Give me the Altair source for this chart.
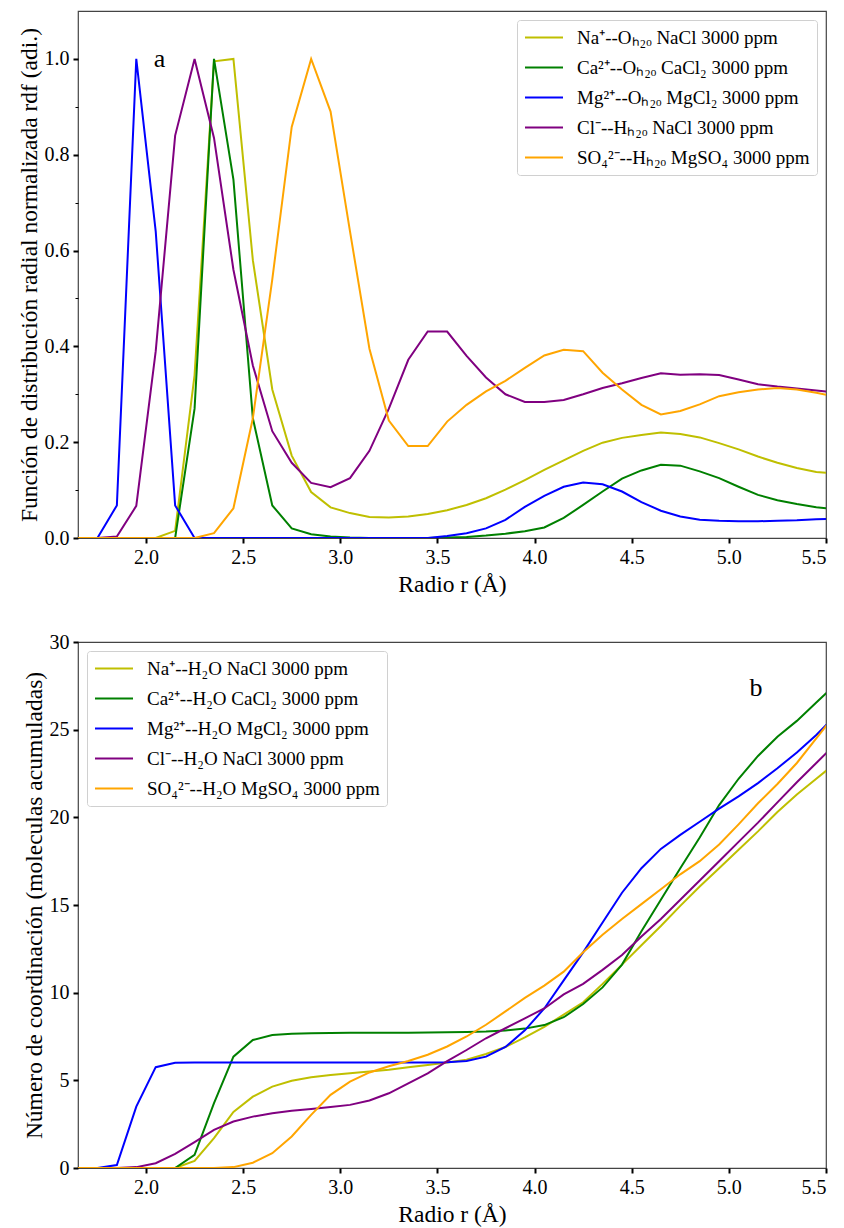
import altair as alt
import pandas as pd

FONT = "Liberation Serif"

# radius grid (Å)
R = [1.65, 1.75, 1.85, 1.95, 2.05, 2.15, 2.25, 2.35, 2.45, 2.55,
     2.65, 2.75, 2.85, 2.95, 3.05, 3.15, 3.25, 3.35, 3.45, 3.55,
     3.65, 3.75, 3.85, 3.95, 4.05, 4.15, 4.25, 4.35, 4.45, 4.55,
     4.65, 4.75, 4.85, 4.95, 5.05, 5.15, 5.25, 5.35, 5.45, 5.55]

# ---- panel a: normalised rdf ----
RDF_NA = [0, 0, 0, 0, 0, 0.015, 0.34, 0.995, 1.0, 0.58,
          0.31, 0.172, 0.096, 0.064, 0.052, 0.044, 0.043, 0.045, 0.05, 0.058,
          0.069, 0.083, 0.101, 0.121, 0.142, 0.162, 0.182, 0.199, 0.209, 0.215,
          0.22, 0.217, 0.21, 0.198, 0.185, 0.17, 0.157, 0.146, 0.138, 0.134]
RDF_CA = [0, 0, 0, 0, 0, 0, 0.27, 1.0, 0.748, 0.25,
          0.068, 0.02, 0.008, 0.003, 0.001, 0, 0, 0, 0, 0.001,
          0.002, 0.005, 0.009, 0.014, 0.022, 0.042, 0.069, 0.097, 0.124, 0.141,
          0.153, 0.151, 0.139, 0.125, 0.107, 0.09, 0.079, 0.071, 0.064, 0.06]
RDF_MG = [0, 0, 0.068, 1.0, 0.64, 0.068, 0, 0, 0, 0,
          0, 0, 0, 0, 0, 0, 0, 0, 0, 0.004,
          0.01, 0.02, 0.038, 0.065, 0.088, 0.107, 0.116, 0.112, 0.097, 0.075,
          0.057, 0.045, 0.038, 0.036, 0.035, 0.035, 0.036, 0.037, 0.039, 0.04]
RDF_CL = [0, 0, 0.003, 0.067, 0.39, 0.84, 1.0, 0.835, 0.56, 0.36,
          0.223, 0.157, 0.115, 0.106, 0.125, 0.182, 0.27, 0.372, 0.431, 0.431,
          0.38, 0.335, 0.30, 0.284, 0.284, 0.288, 0.30, 0.313, 0.323, 0.334,
          0.344, 0.341, 0.342, 0.34, 0.331, 0.321, 0.316, 0.312, 0.308, 0.304]
RDF_SO4 = [0, 0, 0, 0, 0, 0, 0, 0.01, 0.062, 0.25,
           0.54, 0.858, 1.0, 0.89, 0.64, 0.395, 0.245, 0.192, 0.192, 0.243,
           0.278, 0.306, 0.328, 0.355, 0.381, 0.393, 0.39, 0.345, 0.31, 0.278,
           0.258, 0.265, 0.279, 0.296, 0.304, 0.31, 0.313, 0.31, 0.303, 0.295]

# ---- panel b: cumulative coordination number ----
CN_NA = [0, 0, 0, 0, 0, 0, 0.4, 1.7, 3.2, 4.07,
         4.64, 4.98, 5.17, 5.3, 5.4, 5.5, 5.6, 5.75, 5.88, 6.02,
         6.17, 6.5, 6.9, 7.45, 8.05, 8.75, 9.45, 10.5, 11.6, 12.7,
         13.8, 14.95, 16.05, 17.1, 18.15, 19.2, 20.3, 21.3, 22.2, 23.1]
CN_CA = [0, 0, 0, 0, 0, 0, 0.75, 3.7, 6.35, 7.3,
         7.58, 7.66, 7.69, 7.7, 7.71, 7.71, 7.72, 7.72, 7.73, 7.74,
         7.75, 7.78, 7.84, 7.95, 8.15, 8.6, 9.35, 10.3, 11.6, 13.5,
         15.3, 17.1, 18.85, 20.7, 22.2, 23.5, 24.6, 25.5, 26.55, 27.6]
CN_MG = [0, 0, 0.17, 3.5, 5.75, 6.0, 6.02, 6.02, 6.02, 6.02,
         6.02, 6.02, 6.02, 6.02, 6.02, 6.02, 6.02, 6.02, 6.02, 6.03,
         6.1, 6.35, 6.9, 7.85, 9.1, 10.7, 12.3, 14.0, 15.7, 17.1,
         18.2, 19.0, 19.75, 20.5, 21.2, 21.95, 22.8, 23.7, 24.7, 25.8]
CN_CL = [0, 0, 0, 0.05, 0.27, 0.8, 1.47, 2.17, 2.65, 2.93,
         3.12, 3.27, 3.37, 3.48, 3.6, 3.85, 4.26, 4.83, 5.4, 6.1,
         6.73, 7.4, 7.97, 8.54, 9.1, 9.9, 10.5, 11.3, 12.15, 13.2,
         14.2, 15.3, 16.4, 17.5, 18.6, 19.7, 20.85, 22.0, 23.1, 24.2]
CN_SO4 = [0, 0, 0, 0, 0, 0, 0, 0, 0.05, 0.3,
          0.84, 1.8, 3.03, 4.17, 4.93, 5.45, 5.8, 6.1, 6.46, 6.93,
          7.5, 8.17, 8.93, 9.7, 10.4, 11.2, 12.3, 13.3, 14.2, 15.05,
          15.9, 16.75, 17.5, 18.45, 19.6, 20.8, 21.9, 23.1, 24.5, 25.9]

LABELS_A = ["Na⁺--Oₕ₂ₒ NaCl 3000 ppm",
            "Ca²⁺--Oₕ₂ₒ CaCl₂ 3000 ppm",
            "Mg²⁺--Oₕ₂ₒ MgCl₂ 3000 ppm",
            "Cl⁻--Hₕ₂ₒ NaCl 3000 ppm",
            "SO₄²⁻--Hₕ₂ₒ MgSO₄ 3000 ppm"]
LABELS_B = ["Na⁺--H₂O NaCl 3000 ppm",
            "Ca²⁺--H₂O CaCl₂ 3000 ppm",
            "Mg²⁺--H₂O MgCl₂ 3000 ppm",
            "Cl⁻--H₂O NaCl 3000 ppm",
            "SO₄²⁻--H₂O MgSO₄ 3000 ppm"]
COLORS = ["#bfbf00", "#008000", "#0000ff", "#800080", "#ffa500"]

X_TICKS = [2.0, 2.5, 3.0, 3.5, 4.0, 4.5, 5.0, 5.5]
YA_TICKS = [0.0, 0.1, 0.2, 0.3, 0.4, 0.5, 0.6, 0.7, 0.8, 0.9, 1.0]
YB_TICKS = [0, 5, 10, 15, 20, 25, 30]

PANEL_A = {"r": [2.07], "v": [1.0], "t": ["a"]}
PANEL_B = {"r": [5.14], "v": [27.4], "t": ["b"]}


def long_df(series, labels):
    rows = []
    for lab, vals in zip(labels, series):
        for r, v in zip(R, vals):
            rows.append({"r": r, "v": v, "s": lab})
    return pd.DataFrame(rows)


dfa = long_df([RDF_NA, RDF_CA, RDF_MG, RDF_CL, RDF_SO4], LABELS_A)
dfb = long_df([CN_NA, CN_CA, CN_MG, CN_CL, CN_SO4], LABELS_B)

xscale = alt.Scale(domain=[1.65, 5.5], nice=False, zero=False)


def xaxis():
    return alt.Axis(title="Radio r (Å)", values=X_TICKS, format=".1f",
                    titlePadding=5)


def legend(orient):
    return alt.Legend(title=None, orient=orient, offset=9,
                      symbolType="M-1,0H3", symbolSize=361,
                      symbolStrokeWidth=2, labelOffset=32,
                      labelFont=FONT, labelFontSize=19, labelLimit=400,
                      labelColor="black",
                      rowPadding=9, padding=7,
                      strokeColor="#d0d0d0", fillColor="white",
                      cornerRadius=3)


line_a = alt.Chart(dfa).mark_line(strokeWidth=2, clip=True).encode(
    x=alt.X("r:Q", scale=xscale, axis=xaxis()),
    y=alt.Y("v:Q", scale=alt.Scale(domain=[0, 1.1], nice=False),
            axis=alt.Axis(
                title="Función de distribución radial normalizada rdf (adi.)",
                values=YA_TICKS,
                labelExpr="round(datum.value*10) % 2 == 0 ? format(datum.value, '.1f') : ''",
                tickSize={"condition": {"test": "round(datum.value*10) % 2 == 0", "value": 5}, "value": 3},
                tickWidth={"condition": {"test": "round(datum.value*10) % 2 == 0", "value": 2}, "value": 1},
                titlePadding=3)),
    color=alt.Color("s:N", scale=alt.Scale(domain=LABELS_A, range=COLORS),
                    legend=legend("top-right")),
)
text_a = alt.Chart(pd.DataFrame(PANEL_A)).mark_text(
    font=FONT, fontSize=26, color="black", baseline="middle", align="center"
).encode(x=alt.X("r:Q", scale=xscale), y=alt.Y("v:Q"), text="t:N")

top = alt.layer(line_a, text_a).properties(width=748, height=527)

line_b = alt.Chart(dfb).mark_line(strokeWidth=2, clip=True).encode(
    x=alt.X("r:Q", scale=xscale, axis=xaxis()),
    y=alt.Y("v:Q", scale=alt.Scale(domain=[0, 30], nice=False),
            axis=alt.Axis(
                title="Número de coordinación (moleculas acumuladas)",
                values=YB_TICKS, titlePadding=3)),
    color=alt.Color("s:N", scale=alt.Scale(domain=LABELS_B, range=COLORS),
                    legend=legend("top-left")),
)
text_b = alt.Chart(pd.DataFrame(PANEL_B)).mark_text(
    font=FONT, fontSize=26, color="black", baseline="middle", align="center"
).encode(x=alt.X("r:Q", scale=xscale), y=alt.Y("v:Q"), text="t:N")

bottom = alt.layer(line_b, text_b).properties(width=748, height=526)

chart = alt.vconcat(top, bottom, spacing=34).resolve_scale(
    color="independent"
).resolve_legend(color="independent").properties(
    padding={"left": 16, "top": 10, "right": 5, "bottom": 0},
    background="white",
).configure_view(
    stroke="#444444", strokeWidth=1.2
).configure_axis(
    grid=False, domain=False,
    labelFont=FONT, labelFontSize=20, labelColor="black", labelPadding=4,
    titleFont=FONT, titleFontSize=23.5, titleFontWeight="normal", titleColor="black",
    tickColor="black", tickSize=5, tickWidth=2,
)

chart.save("out.html", embed_options={"renderer": "svg", "actions": False})
